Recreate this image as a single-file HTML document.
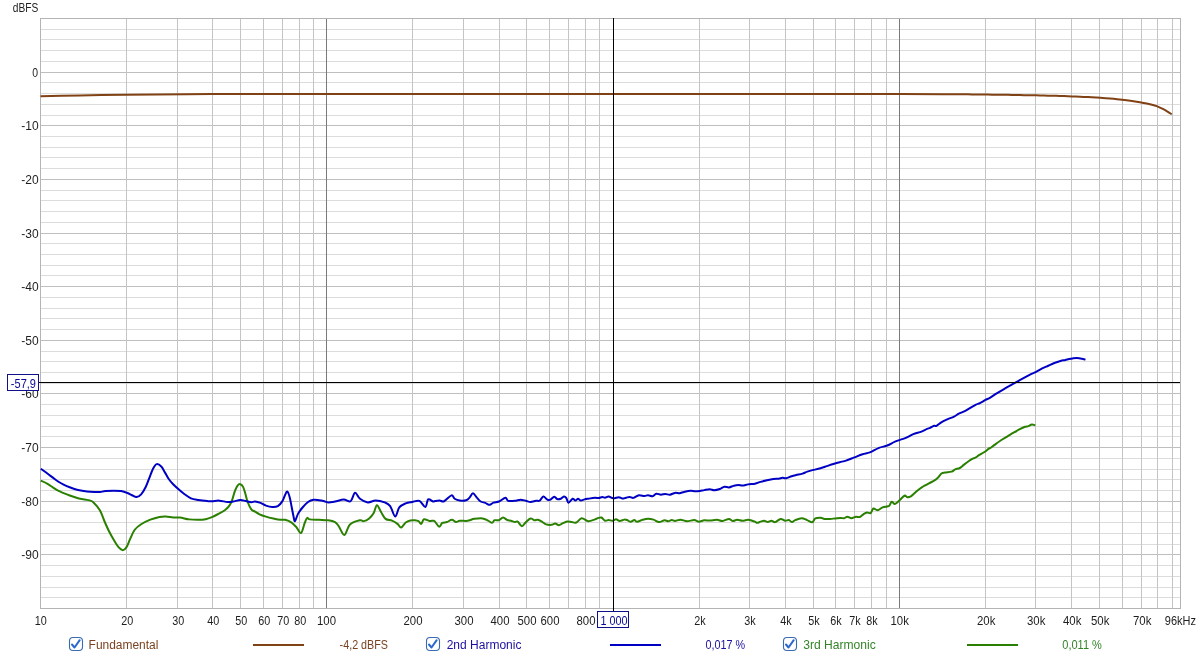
<!DOCTYPE html><html><head><meta charset="utf-8"><style>html,body{margin:0;padding:0;background:#fff;width:1200px;height:656px;overflow:hidden}svg{display:block;will-change:transform}text{font-family:"Liberation Sans",sans-serif;font-size:12px}</style></head><body>
<svg width="1200" height="656" viewBox="0 0 1200 656">
<rect width="1200" height="656" fill="#fff"/>
<g shape-rendering="crispEdges"><rect x="40" y="29" width="1140" height="1" fill="#dcdcdc"/><rect x="40" y="39" width="1140" height="1" fill="#dcdcdc"/><rect x="40" y="50" width="1140" height="1" fill="#dcdcdc"/><rect x="40" y="61" width="1140" height="1" fill="#dcdcdc"/><rect x="40" y="72" width="1140" height="1" fill="#bebebe"/><rect x="40" y="82" width="1140" height="1" fill="#dcdcdc"/><rect x="40" y="93" width="1140" height="1" fill="#dcdcdc"/><rect x="40" y="104" width="1140" height="1" fill="#dcdcdc"/><rect x="40" y="115" width="1140" height="1" fill="#dcdcdc"/><rect x="40" y="125" width="1140" height="1" fill="#bebebe"/><rect x="40" y="136" width="1140" height="1" fill="#dcdcdc"/><rect x="40" y="147" width="1140" height="1" fill="#dcdcdc"/><rect x="40" y="157" width="1140" height="1" fill="#dcdcdc"/><rect x="40" y="168" width="1140" height="1" fill="#dcdcdc"/><rect x="40" y="179" width="1140" height="1" fill="#bebebe"/><rect x="40" y="190" width="1140" height="1" fill="#dcdcdc"/><rect x="40" y="200" width="1140" height="1" fill="#dcdcdc"/><rect x="40" y="211" width="1140" height="1" fill="#dcdcdc"/><rect x="40" y="222" width="1140" height="1" fill="#dcdcdc"/><rect x="40" y="233" width="1140" height="1" fill="#bebebe"/><rect x="40" y="243" width="1140" height="1" fill="#dcdcdc"/><rect x="40" y="254" width="1140" height="1" fill="#dcdcdc"/><rect x="40" y="265" width="1140" height="1" fill="#dcdcdc"/><rect x="40" y="275" width="1140" height="1" fill="#dcdcdc"/><rect x="40" y="286" width="1140" height="1" fill="#bebebe"/><rect x="40" y="297" width="1140" height="1" fill="#dcdcdc"/><rect x="40" y="308" width="1140" height="1" fill="#dcdcdc"/><rect x="40" y="318" width="1140" height="1" fill="#dcdcdc"/><rect x="40" y="329" width="1140" height="1" fill="#dcdcdc"/><rect x="40" y="340" width="1140" height="1" fill="#bebebe"/><rect x="40" y="351" width="1140" height="1" fill="#dcdcdc"/><rect x="40" y="361" width="1140" height="1" fill="#dcdcdc"/><rect x="40" y="372" width="1140" height="1" fill="#dcdcdc"/><rect x="40" y="383" width="1140" height="1" fill="#dcdcdc"/><rect x="40" y="393" width="1140" height="1" fill="#bebebe"/><rect x="40" y="404" width="1140" height="1" fill="#dcdcdc"/><rect x="40" y="415" width="1140" height="1" fill="#dcdcdc"/><rect x="40" y="426" width="1140" height="1" fill="#dcdcdc"/><rect x="40" y="436" width="1140" height="1" fill="#dcdcdc"/><rect x="40" y="447" width="1140" height="1" fill="#bebebe"/><rect x="40" y="458" width="1140" height="1" fill="#dcdcdc"/><rect x="40" y="469" width="1140" height="1" fill="#dcdcdc"/><rect x="40" y="479" width="1140" height="1" fill="#dcdcdc"/><rect x="40" y="490" width="1140" height="1" fill="#dcdcdc"/><rect x="40" y="501" width="1140" height="1" fill="#bebebe"/><rect x="40" y="511" width="1140" height="1" fill="#dcdcdc"/><rect x="40" y="522" width="1140" height="1" fill="#dcdcdc"/><rect x="40" y="533" width="1140" height="1" fill="#dcdcdc"/><rect x="40" y="544" width="1140" height="1" fill="#dcdcdc"/><rect x="40" y="554" width="1140" height="1" fill="#bebebe"/><rect x="40" y="565" width="1140" height="1" fill="#dcdcdc"/><rect x="40" y="576" width="1140" height="1" fill="#dcdcdc"/><rect x="40" y="587" width="1140" height="1" fill="#dcdcdc"/><rect x="40" y="597" width="1140" height="1" fill="#dcdcdc"/><rect x="126" y="18" width="1" height="590" fill="#c4c4c4"/><rect x="177" y="18" width="1" height="590" fill="#c4c4c4"/><rect x="212" y="18" width="1" height="590" fill="#c4c4c4"/><rect x="240" y="18" width="1" height="590" fill="#c4c4c4"/><rect x="263" y="18" width="1" height="590" fill="#c4c4c4"/><rect x="282" y="18" width="1" height="590" fill="#c4c4c4"/><rect x="299" y="18" width="1" height="590" fill="#c4c4c4"/><rect x="313" y="18" width="1" height="590" fill="#c4c4c4"/><rect x="326" y="18" width="1" height="590" fill="#7a7a7a"/><rect x="412" y="18" width="1" height="590" fill="#c4c4c4"/><rect x="463" y="18" width="1" height="590" fill="#c4c4c4"/><rect x="499" y="18" width="1" height="590" fill="#c4c4c4"/><rect x="526" y="18" width="1" height="590" fill="#c4c4c4"/><rect x="549" y="18" width="1" height="590" fill="#c4c4c4"/><rect x="568" y="18" width="1" height="590" fill="#c4c4c4"/><rect x="585" y="18" width="1" height="590" fill="#c4c4c4"/><rect x="599" y="18" width="1" height="590" fill="#c4c4c4"/><rect x="613" y="18" width="1" height="590" fill="#7a7a7a"/><rect x="699" y="18" width="1" height="590" fill="#c4c4c4"/><rect x="749" y="18" width="1" height="590" fill="#c4c4c4"/><rect x="785" y="18" width="1" height="590" fill="#c4c4c4"/><rect x="813" y="18" width="1" height="590" fill="#c4c4c4"/><rect x="835" y="18" width="1" height="590" fill="#c4c4c4"/><rect x="854" y="18" width="1" height="590" fill="#c4c4c4"/><rect x="871" y="18" width="1" height="590" fill="#c4c4c4"/><rect x="886" y="18" width="1" height="590" fill="#c4c4c4"/><rect x="899" y="18" width="1" height="590" fill="#7a7a7a"/><rect x="985" y="18" width="1" height="590" fill="#c4c4c4"/><rect x="1035" y="18" width="1" height="590" fill="#c4c4c4"/><rect x="1071" y="18" width="1" height="590" fill="#c4c4c4"/><rect x="1099" y="18" width="1" height="590" fill="#c4c4c4"/><rect x="1122" y="18" width="1" height="590" fill="#c4c4c4"/><rect x="1141" y="18" width="1" height="590" fill="#c4c4c4"/><rect x="1157" y="18" width="1" height="590" fill="#c4c4c4"/><rect x="1172" y="18" width="1" height="590" fill="#c4c4c4"/></g>
<rect x="40.5" y="18.5" width="1140" height="590" fill="none" stroke="#b4b4b4" stroke-width="1" shape-rendering="crispEdges"/>
<text transform="translate(32.21,77) scale(0.87,1)" fill="#1e1e1e">0</text>
<text transform="translate(21.30,130) scale(1.0,1)" fill="#1e1e1e">-10</text>
<text transform="translate(21.30,184) scale(1.0,1)" fill="#1e1e1e">-20</text>
<text transform="translate(21.30,238) scale(1.0,1)" fill="#1e1e1e">-30</text>
<text transform="translate(21.30,291) scale(1.0,1)" fill="#1e1e1e">-40</text>
<text transform="translate(21.30,345) scale(1.0,1)" fill="#1e1e1e">-50</text>
<text transform="translate(21.30,398) scale(1.0,1)" fill="#1e1e1e">-60</text>
<text transform="translate(21.30,452) scale(1.0,1)" fill="#1e1e1e">-70</text>
<text transform="translate(21.30,506) scale(1.0,1)" fill="#1e1e1e">-80</text>
<text transform="translate(21.30,559) scale(1.0,1)" fill="#1e1e1e">-90</text>
<text transform="translate(34.70,625) scale(0.9,1)" fill="#1e1e1e">10</text>
<text transform="translate(121.15,625) scale(0.9,1)" fill="#1e1e1e">20</text>
<text transform="translate(172.15,625) scale(0.9,1)" fill="#1e1e1e">30</text>
<text transform="translate(207.15,625) scale(0.9,1)" fill="#1e1e1e">40</text>
<text transform="translate(235.15,625) scale(0.9,1)" fill="#1e1e1e">50</text>
<text transform="translate(258.15,625) scale(0.9,1)" fill="#1e1e1e">60</text>
<text transform="translate(277.15,625) scale(0.9,1)" fill="#1e1e1e">70</text>
<text transform="translate(294.15,625) scale(0.9,1)" fill="#1e1e1e">80</text>
<text transform="translate(317.02,625) scale(0.95,1)" fill="#1e1e1e">100</text>
<text transform="translate(403.50,625) scale(0.95,1)" fill="#1e1e1e">200</text>
<text transform="translate(454.50,625) scale(0.95,1)" fill="#1e1e1e">300</text>
<text transform="translate(490.50,625) scale(0.95,1)" fill="#1e1e1e">400</text>
<text transform="translate(517.50,625) scale(0.95,1)" fill="#1e1e1e">500</text>
<text transform="translate(540.50,625) scale(0.95,1)" fill="#1e1e1e">600</text>
<text transform="translate(576.50,625) scale(0.95,1)" fill="#1e1e1e">800</text>
<text transform="translate(694.15,625) scale(0.9,1)" fill="#1e1e1e">2k</text>
<text transform="translate(744.15,625) scale(0.9,1)" fill="#1e1e1e">3k</text>
<text transform="translate(780.15,625) scale(0.9,1)" fill="#1e1e1e">4k</text>
<text transform="translate(808.15,625) scale(0.9,1)" fill="#1e1e1e">5k</text>
<text transform="translate(830.15,625) scale(0.9,1)" fill="#1e1e1e">6k</text>
<text transform="translate(849.15,625) scale(0.9,1)" fill="#1e1e1e">7k</text>
<text transform="translate(866.15,625) scale(0.9,1)" fill="#1e1e1e">8k</text>
<text transform="translate(890.50,625) scale(0.95,1)" fill="#1e1e1e">10k</text>
<text transform="translate(976.98,625) scale(0.95,1)" fill="#1e1e1e">20k</text>
<text transform="translate(1026.97,625) scale(0.95,1)" fill="#1e1e1e">30k</text>
<text transform="translate(1062.97,625) scale(0.95,1)" fill="#1e1e1e">40k</text>
<text transform="translate(1090.97,625) scale(0.95,1)" fill="#1e1e1e">50k</text>
<text transform="translate(1132.97,625) scale(0.95,1)" fill="#1e1e1e">70k</text>
<text transform="translate(12.80,12) scale(0.850,1)" fill="#1e1e1e">dBFS</text>
<text transform="translate(88.60,649) scale(0.997,1)" fill="#7a4220">Fundamental</text>
<text transform="translate(339.60,649) scale(0.896,1)" fill="#7a4220">-4,2 dBFS</text>
<text transform="translate(446.70,649) scale(1.000,1)" fill="#1c10a0">2nd Harmonic</text>
<text transform="translate(705.40,649) scale(0.900,1)" fill="#1c10a0">0,017 %</text>
<text transform="translate(803.30,649) scale(1.007,1)" fill="#338428">3rd Harmonic</text>
<text transform="translate(1062.25,649) scale(0.920,1)" fill="#338428">0,011 %</text>
<text transform="translate(1164.80,625) scale(0.918,1)" fill="#1e1e1e">96kHz</text>
<path d="M40.50,96.30C53.67,96.00 66.83,95.65 80.00,95.40C95.33,95.11 110.67,94.88 126.00,94.70C146.00,94.46 166.00,94.28 186.00,94.15C202.67,94.04 219.33,94.02 236.00,94.00C290.67,93.94 345.33,93.92 400.00,93.90C466.67,93.88 533.33,93.89 600.00,93.90C666.67,93.91 733.33,93.93 800.00,93.95C833.33,93.96 866.67,93.93 900.00,94.00C920.00,94.04 940.00,94.19 960.00,94.30C962.67,94.31 965.33,94.34 968.00,94.37C970.67,94.40 973.33,94.42 976.00,94.45C978.67,94.48 981.33,94.50 984.00,94.53C986.67,94.56 989.33,94.59 992.00,94.63C994.67,94.66 997.33,94.70 1000.00,94.74C1002.67,94.78 1005.33,94.82 1008.00,94.86C1010.67,94.90 1013.33,94.94 1016.00,94.99C1018.67,95.03 1021.33,95.08 1024.00,95.13C1026.67,95.18 1029.33,95.24 1032.00,95.29C1034.67,95.34 1037.33,95.40 1040.00,95.46C1042.67,95.52 1045.33,95.58 1048.00,95.65C1050.67,95.72 1053.33,95.79 1056.00,95.87C1058.67,95.95 1061.33,96.03 1064.00,96.12C1066.67,96.21 1069.33,96.30 1072.00,96.40C1074.67,96.50 1077.33,96.60 1080.00,96.72C1082.67,96.84 1085.33,96.96 1088.00,97.10C1090.67,97.24 1093.33,97.39 1096.00,97.55C1097.33,97.63 1098.67,97.70 1100.00,97.80C1103.33,98.05 1106.67,98.30 1110.00,98.60C1114.00,98.95 1118.00,99.30 1122.00,99.75C1125.33,100.12 1128.67,100.57 1132.00,101.05C1135.10,101.50 1138.20,102.00 1141.30,102.55C1144.20,103.07 1147.10,103.57 1150.00,104.25C1152.23,104.77 1154.47,105.32 1156.70,106.15C1158.90,106.97 1161.10,108.08 1163.30,109.20C1164.87,110.00 1166.43,110.95 1168.00,111.90C1169.23,112.65 1170.47,113.50 1171.70,114.30" fill="none" stroke="#804214" stroke-width="2.0" stroke-linejoin="round"/>
<path d="M40.80,480.70C41.85,481.18 45.03,482.45 47.10,483.60C49.17,484.75 51.37,486.42 53.20,487.60C55.03,488.78 56.37,489.78 58.10,490.70C59.83,491.62 61.67,492.30 63.60,493.10C65.53,493.90 67.30,494.63 69.70,495.50C72.10,496.37 75.45,497.62 78.00,498.30C80.55,498.98 83.08,499.25 85.00,499.60C86.92,499.95 88.08,499.92 89.50,500.40C90.92,500.88 91.75,500.81 93.50,502.50C95.25,504.19 98.16,507.37 100.00,510.54C101.84,513.71 103.05,518.00 104.57,521.51C106.09,525.01 107.62,528.52 109.14,531.57C110.66,534.62 112.18,537.24 113.71,539.80C115.23,542.36 116.77,545.21 118.29,546.93C119.82,548.65 121.49,550.10 122.86,550.13C124.23,550.16 125.29,548.98 126.51,547.11C127.73,545.24 128.80,541.78 130.17,538.89C131.54,536.00 132.91,532.18 134.74,529.74C136.57,527.30 138.55,525.93 141.14,524.26C143.73,522.59 147.24,520.91 150.29,519.69C153.34,518.47 156.84,517.47 159.43,516.94C162.02,516.41 163.55,516.41 165.83,516.49C168.12,516.57 170.78,517.23 173.14,517.40C175.50,517.57 177.33,517.21 180.00,517.54C182.67,517.87 186.09,518.99 189.14,519.37C192.19,519.75 195.55,519.86 198.29,519.83C201.03,519.80 203.31,519.65 205.60,519.19C207.88,518.73 209.87,517.97 212.00,517.09C214.13,516.21 216.27,515.03 218.40,513.89C220.53,512.75 222.97,511.60 224.80,510.23C226.63,508.86 228.15,507.34 229.37,505.66C230.59,503.98 231.20,502.61 232.11,500.17C233.03,497.73 233.95,493.47 234.86,491.03C235.78,488.59 236.69,486.68 237.60,485.54C238.51,484.40 239.43,483.94 240.34,484.17C241.25,484.40 242.25,485.31 243.09,486.91C243.93,488.51 244.61,491.25 245.37,493.77C246.13,496.28 246.67,499.41 247.66,502.00C248.65,504.59 250.09,507.71 251.31,509.31C252.53,510.91 253.62,510.76 255.00,511.60C256.38,512.44 257.74,513.50 259.57,514.34C261.40,515.18 263.68,515.94 265.97,516.63C268.26,517.32 270.85,517.93 273.29,518.46C275.73,518.99 278.62,519.60 280.60,519.83C282.58,520.06 283.34,519.37 285.17,519.83C287.00,520.29 289.68,521.33 291.57,522.57C293.46,523.82 294.93,525.56 296.50,527.30C298.07,529.04 299.63,533.72 301.00,533.00C302.37,532.28 303.68,525.50 304.70,523.00C305.72,520.50 306.25,518.61 307.11,518.00C307.97,517.39 307.88,519.07 309.86,519.37C311.84,519.67 315.95,519.68 319.00,519.83C322.05,519.98 325.47,519.91 328.14,520.29C330.81,520.67 333.23,521.12 335.00,522.11C336.77,523.10 337.18,524.10 338.75,526.25C340.32,528.40 342.52,535.31 344.40,535.00C346.27,534.69 347.40,526.86 350.00,524.40C352.60,521.94 357.72,520.77 360.00,520.23C362.28,519.69 362.14,521.44 363.66,521.14C365.18,520.84 367.46,519.77 369.14,518.40C370.81,517.03 372.41,515.12 373.71,512.91C375.00,510.70 375.69,505.29 376.91,505.14C378.13,504.99 379.58,509.71 381.03,512.00C382.48,514.29 383.77,517.41 385.60,518.86C387.43,520.31 390.02,519.85 392.00,520.69C393.98,521.53 395.97,522.75 397.49,523.89C399.01,525.03 399.77,527.77 401.14,527.54C402.51,527.31 404.18,523.70 405.71,522.51C407.24,521.32 408.76,520.79 410.29,520.41C411.82,520.03 413.49,520.11 414.86,520.23C416.23,520.35 417.44,520.53 418.51,521.14C419.58,521.75 420.34,524.19 421.26,523.89C422.18,523.59 422.63,519.80 424.00,519.31C425.37,518.82 427.97,520.73 429.49,520.96C431.01,521.19 432.22,520.58 433.14,520.69C434.06,520.80 434.00,520.61 435.00,521.60C436.00,522.59 437.89,526.40 439.11,526.63C440.33,526.86 441.01,523.73 442.31,522.97C443.61,522.21 445.29,522.59 446.89,522.06C448.49,521.53 450.39,519.77 451.91,519.77C453.43,519.77 454.73,521.91 456.03,522.06C457.33,522.21 458.01,520.87 459.69,520.69C461.37,520.51 464.41,521.04 466.09,520.96C467.76,520.88 468.37,520.58 469.74,520.23C471.11,519.88 472.18,519.16 474.31,518.86C476.44,518.56 480.25,518.10 482.54,518.40C484.83,518.70 486.43,519.96 488.03,520.69C489.63,521.42 491.07,522.87 492.14,522.79C493.21,522.71 493.29,520.66 494.43,520.23C495.57,519.80 497.55,520.69 499.00,520.23C500.45,519.77 501.74,517.52 503.11,517.49C504.48,517.46 505.93,519.52 507.23,520.05C508.53,520.58 509.59,520.36 510.89,520.69C512.18,521.03 513.86,521.91 515.00,522.06C516.14,522.21 516.60,520.91 517.74,521.60C518.88,522.29 520.49,526.09 521.86,526.17C523.23,526.25 524.52,523.35 525.97,522.06C527.42,520.76 529.17,518.70 530.54,518.40C531.91,518.10 532.98,520.00 534.20,520.23C535.42,520.46 536.49,519.47 537.86,519.77C539.23,520.07 541.06,521.30 542.43,522.06C543.80,522.82 544.57,523.88 546.09,524.34C547.61,524.80 550.05,524.95 551.57,524.80C553.09,524.65 554.01,523.35 555.23,523.43C556.45,523.51 557.67,525.26 558.89,525.26C560.11,525.26 561.17,524.04 562.54,523.43C563.91,522.82 565.59,521.83 567.11,521.60C568.63,521.37 570.17,521.91 571.69,522.06C573.22,522.21 574.59,523.15 576.26,522.51C577.93,521.87 579.76,518.45 581.74,518.22C583.72,517.99 585.93,520.95 588.14,521.14C590.35,521.33 593.40,519.84 595.00,519.34C596.60,518.84 596.67,518.45 597.74,518.15C598.81,517.85 600.18,517.08 601.40,517.51C602.62,517.94 603.84,520.30 605.06,520.71C606.28,521.12 607.49,519.98 608.71,519.98C609.93,519.98 611.15,520.82 612.37,520.71C613.59,520.60 614.81,519.31 616.03,519.34C617.25,519.37 618.32,520.85 619.69,520.90C621.06,520.95 623.04,519.77 624.26,519.62C625.48,519.47 625.93,519.62 627.00,519.98C628.07,520.35 629.44,521.81 630.66,521.81C631.88,521.81 633.24,519.98 634.31,519.98C635.38,519.98 635.69,521.84 637.06,521.81C638.43,521.78 640.71,520.32 642.54,519.80C644.37,519.28 646.20,518.73 648.03,518.70C649.86,518.67 651.68,519.06 653.51,519.62C655.34,520.18 657.17,521.98 659.00,522.09C660.83,522.20 662.97,520.41 664.49,520.26C666.01,520.11 666.92,521.22 668.14,521.17C669.36,521.12 670.66,520.02 671.80,519.98C672.94,519.94 673.55,520.95 675.00,520.90C676.45,520.85 678.51,519.62 680.49,519.67C682.47,519.72 684.61,521.17 686.89,521.23C689.17,521.29 692.22,519.96 694.20,520.04C696.18,520.12 697.09,521.65 698.77,521.69C700.45,521.74 702.43,520.49 704.26,520.31C706.09,520.13 707.61,520.66 709.74,520.59C711.87,520.52 714.93,519.80 717.06,519.86C719.19,519.92 720.56,521.10 722.54,520.95C724.52,520.80 727.26,518.94 728.94,518.94C730.62,518.94 731.23,520.80 732.60,520.95C733.97,521.10 735.49,519.89 737.17,519.86C738.85,519.83 740.83,520.80 742.66,520.77C744.49,520.74 746.46,519.64 748.14,519.67C749.82,519.70 751.57,520.62 752.71,520.95C753.85,521.28 754.24,521.34 755.00,521.66C755.76,521.98 756.38,522.85 757.29,522.85C758.20,522.85 759.35,522.01 760.49,521.66C761.63,521.31 762.92,520.70 764.14,520.74C765.36,520.78 766.58,521.93 767.80,521.93C769.02,521.93 770.24,520.71 771.46,520.74C772.68,520.77 773.59,522.41 775.11,522.11C776.63,521.81 778.92,519.14 780.60,518.91C782.28,518.68 783.80,520.54 785.17,520.74C786.54,520.94 787.69,519.87 788.83,520.10C789.97,520.33 790.96,522.11 792.03,522.11C793.10,522.11 793.63,520.74 795.23,520.10C796.83,519.46 799.65,518.27 801.63,518.27C803.61,518.27 805.36,519.43 807.11,520.10C808.86,520.77 810.77,522.57 812.14,522.30C813.51,522.03 813.89,519.22 815.34,518.46C816.79,517.70 819.31,517.65 820.83,517.73C822.36,517.81 822.97,518.71 824.49,518.91C826.01,519.11 828.22,518.98 829.97,518.91C831.72,518.84 833.25,518.62 835.00,518.46C836.75,518.30 838.97,517.98 840.49,517.94C842.01,517.90 843.00,518.42 844.14,518.22C845.28,518.02 846.12,516.75 847.34,516.75C848.56,516.75 850.01,518.22 851.46,518.22C852.91,518.22 854.66,516.95 856.03,516.75C857.40,516.55 858.47,517.44 859.69,517.03C860.91,516.62 862.12,515.05 863.34,514.29C864.56,513.53 865.78,512.66 867.00,512.46C868.22,512.26 869.59,513.75 870.66,513.10C871.73,512.45 872.26,509.02 873.40,508.53C874.54,508.04 875.99,510.35 877.51,510.17C879.03,509.99 880.94,508.04 882.54,507.43C884.14,506.82 885.97,506.81 887.11,506.51C888.25,506.20 888.64,506.39 889.40,505.60C890.16,504.81 890.78,502.03 891.69,501.76C892.61,501.49 893.67,504.10 894.89,503.95C896.11,503.80 897.40,502.22 899.00,500.85C900.60,499.48 903.12,496.34 904.49,495.73C905.86,495.12 906.16,497.10 907.23,497.19C908.30,497.28 909.60,497.00 910.89,496.27C912.18,495.54 913.13,494.33 915.00,492.80C916.87,491.27 918.60,489.33 922.10,487.10C925.61,484.87 932.79,481.70 936.03,479.43C939.26,477.16 939.99,474.63 941.51,473.49C943.03,472.35 943.49,472.88 945.17,472.57C946.85,472.26 949.89,472.19 951.57,471.66C953.25,471.13 953.86,469.98 955.23,469.37C956.60,468.76 958.28,468.84 959.80,468.00C961.32,467.16 962.39,465.82 964.37,464.34C966.35,462.86 969.86,460.24 971.69,459.13C973.52,458.02 974.12,458.33 975.34,457.67C976.56,457.01 977.48,456.14 979.00,455.20C980.52,454.25 982.81,453.14 984.49,452.00C986.17,450.86 988.14,448.96 989.06,448.34C989.98,447.72 989.16,448.79 990.00,448.26C990.84,447.73 992.40,446.44 994.12,445.18C995.84,443.92 998.12,442.15 1000.29,440.72C1002.46,439.29 1004.86,437.97 1007.15,436.60C1009.44,435.23 1011.73,433.80 1014.01,432.49C1016.29,431.18 1019.03,429.67 1020.86,428.72C1022.69,427.77 1023.72,427.24 1024.98,426.80C1026.24,426.37 1027.27,426.48 1028.41,426.11C1029.55,425.74 1030.70,424.74 1031.84,424.60C1032.98,424.46 1034.70,425.18 1035.27,425.29" fill="none" stroke="#2a8000" stroke-width="2.0" stroke-linejoin="round"/>
<path d="M40.80,468.70C41.85,469.47 45.03,471.77 47.10,473.30C49.17,474.83 51.37,476.53 53.20,477.90C55.03,479.27 56.37,480.38 58.10,481.50C59.83,482.62 61.67,483.63 63.60,484.60C65.53,485.57 67.30,486.40 69.70,487.30C72.10,488.20 75.12,489.30 78.00,490.00C80.88,490.70 84.00,491.17 87.00,491.50C90.00,491.83 93.83,491.91 96.00,492.00C98.17,492.09 98.42,492.18 100.00,492.03C101.58,491.88 103.20,491.34 105.49,491.11C107.77,490.88 111.12,490.66 113.71,490.66C116.30,490.66 118.74,490.73 121.03,491.11C123.32,491.49 125.60,492.25 127.43,492.94C129.26,493.63 130.48,494.54 132.00,495.23C133.52,495.92 135.05,497.21 136.57,497.06C138.09,496.91 139.62,495.99 141.14,494.31C142.66,492.63 144.34,489.74 145.71,487.00C147.08,484.26 148.15,480.91 149.37,477.86C150.59,474.81 151.81,471.00 153.03,468.71C154.25,466.42 155.32,464.52 156.69,464.14C158.06,463.76 159.89,465.06 161.26,466.43C162.63,467.80 163.69,470.31 164.91,472.37C166.13,474.43 167.20,476.79 168.57,478.77C169.94,480.75 171.23,482.29 173.14,484.26C175.04,486.23 178.09,488.91 180.00,490.57C181.91,492.23 182.74,492.94 184.57,494.23C186.40,495.53 188.68,497.38 190.97,498.34C193.26,499.30 195.55,499.53 198.29,499.99C201.03,500.45 205.15,500.88 207.43,501.09C209.72,501.30 210.02,501.35 212.00,501.27C213.98,501.19 216.72,500.51 219.31,500.63C221.90,500.75 225.25,501.85 227.54,502.00C229.83,502.15 230.90,501.88 233.03,501.54C235.16,501.21 238.21,500.06 240.34,499.99C242.47,499.92 244.00,500.72 245.83,501.09C247.66,501.45 249.78,502.11 251.31,502.18C252.84,502.25 253.47,501.42 255.00,501.54C256.53,501.66 258.66,502.22 260.49,502.91C262.32,503.60 263.99,504.97 265.97,505.66C267.95,506.35 270.39,506.95 272.37,507.03C274.35,507.10 276.18,507.10 277.86,506.11C279.54,505.12 281.21,502.99 282.43,501.09C283.65,499.19 284.33,496.29 285.17,494.69C286.01,493.09 286.70,491.03 287.46,491.49C288.22,491.95 289.06,494.92 289.74,497.43C290.43,499.94 290.96,503.52 291.57,506.57C292.18,509.62 292.84,513.27 293.40,515.71C293.96,518.15 294.19,521.50 294.95,521.20C295.71,520.90 296.71,516.17 297.97,513.89C299.24,511.60 300.86,509.47 302.54,507.49C304.22,505.51 306.20,503.30 308.03,502.00C309.86,500.70 311.68,500.01 313.51,499.71C315.34,499.40 317.32,499.94 319.00,500.17C320.68,500.40 322.05,500.71 323.57,501.09C325.09,501.47 326.24,502.38 328.14,502.46C330.04,502.53 332.40,502.03 335.00,501.54C337.60,501.05 341.15,499.55 343.75,499.50C346.35,499.45 348.73,502.38 350.60,501.25C352.48,500.12 353.43,493.17 355.00,492.75C356.57,492.33 357.87,497.13 360.00,498.74C362.13,500.35 365.18,502.09 367.77,502.40C370.36,502.70 372.72,500.57 375.54,500.57C378.36,500.57 382.25,501.48 384.69,502.40C387.13,503.31 388.42,503.70 390.17,506.06C391.92,508.42 393.68,516.34 395.20,516.57C396.72,516.80 397.56,509.64 399.31,507.43C401.06,505.22 403.58,504.23 405.71,503.31C407.84,502.39 409.82,502.35 412.11,501.94C414.40,501.53 417.22,500.01 419.43,500.85C421.64,501.69 423.92,507.22 425.37,506.97C426.82,506.73 426.81,500.29 428.11,499.38C429.41,498.47 431.99,501.22 433.14,501.49C434.29,501.76 433.93,501.18 435.00,501.03C436.07,500.88 438.05,500.54 439.57,500.57C441.09,500.60 442.16,502.08 444.14,501.21C446.12,500.34 449.71,495.77 451.46,495.36C453.21,494.95 453.29,497.87 454.66,498.74C456.03,499.61 457.79,500.31 459.69,500.57C461.59,500.83 464.41,500.83 466.09,500.30C467.76,499.77 468.60,498.54 469.74,497.37C470.88,496.20 471.72,493.18 472.94,493.26C474.16,493.34 475.76,496.46 477.06,497.83C478.36,499.20 479.34,500.65 480.71,501.49C482.08,502.33 483.80,502.30 485.29,502.86C486.78,503.42 488.30,504.90 489.67,504.87C491.04,504.84 491.95,503.23 493.51,502.67C495.06,502.11 497.02,502.30 499.00,501.49C500.98,500.68 503.88,497.94 505.40,497.83C506.92,497.72 506.54,500.35 508.14,500.85C509.74,501.35 512.94,501.05 515.00,500.85C517.06,500.65 518.66,499.66 520.49,499.66C522.32,499.66 524.30,500.47 525.97,500.85C527.64,501.23 528.86,501.94 530.54,501.94C532.22,501.94 534.50,501.08 536.03,500.85C537.55,500.62 538.47,501.30 539.69,500.57C540.91,499.84 542.12,496.66 543.34,496.46C544.56,496.26 545.93,498.80 547.00,499.38C548.07,499.96 548.52,500.39 549.74,499.93C550.96,499.47 553.09,496.79 554.31,496.64C555.53,496.49 555.99,498.67 557.06,499.02C558.13,499.37 559.57,499.17 560.71,498.74C561.85,498.31 563.00,496.61 563.91,496.46C564.82,496.31 565.44,496.79 566.20,497.83C566.96,498.87 567.42,502.52 568.49,502.67C569.56,502.82 571.46,499.09 572.60,498.74C573.74,498.39 574.43,500.57 575.34,500.57C576.25,500.57 577.18,498.74 578.09,498.74C579.00,498.74 579.76,500.46 580.83,500.57C581.90,500.68 583.27,499.69 584.49,499.38C585.71,499.07 586.39,498.99 588.14,498.74C589.89,498.49 593.25,497.98 595.00,497.86C596.75,497.74 597.44,498.19 598.66,498.04C599.88,497.89 601.24,497.00 602.31,496.94C603.38,496.88 603.99,497.75 605.06,497.67C606.13,497.60 607.34,496.38 608.71,496.49C610.08,496.60 611.61,498.20 613.29,498.31C614.97,498.42 617.25,497.08 618.77,497.13C620.29,497.18 621.21,498.50 622.43,498.59C623.65,498.68 624.87,497.94 626.09,497.67C627.31,497.40 628.52,496.91 629.74,496.94C630.96,496.97 631.88,498.13 633.40,497.86C634.92,497.59 637.06,495.61 638.89,495.30C640.72,495.00 642.85,496.03 644.37,496.03C645.89,496.03 646.66,495.27 648.03,495.30C649.40,495.33 651.23,496.47 652.60,496.21C653.97,495.95 654.89,494.00 656.26,493.74C657.63,493.48 659.31,494.61 660.83,494.66C662.35,494.71 663.88,494.02 665.40,494.02C666.92,494.02 668.37,494.85 669.97,494.66C671.57,494.47 673.40,493.14 675.00,492.89C676.60,492.64 678.05,493.31 679.57,493.16C681.09,493.01 682.31,492.35 684.14,491.97C685.97,491.59 688.71,490.98 690.54,490.87C692.37,490.76 693.59,491.30 695.11,491.33C696.63,491.36 698.17,491.26 699.69,491.06C701.22,490.86 702.59,490.44 704.26,490.14C705.93,489.83 708.07,489.23 709.74,489.23C711.41,489.23 712.63,490.19 714.31,490.14C715.99,490.09 718.12,489.51 719.80,488.95C721.48,488.39 722.85,487.02 724.37,486.76C725.89,486.50 727.42,487.55 728.94,487.40C730.46,487.25 731.99,486.26 733.51,485.85C735.03,485.44 736.57,484.98 738.09,484.93C739.62,484.88 740.99,485.66 742.66,485.57C744.33,485.48 746.08,484.69 748.14,484.38C750.20,484.07 752.94,484.12 755.00,483.71C757.06,483.29 758.51,482.47 760.49,481.89C762.47,481.31 764.76,480.73 766.89,480.24C769.02,479.75 771.31,479.22 773.29,478.96C775.27,478.70 777.25,478.89 778.77,478.69C780.29,478.49 781.21,477.85 782.43,477.77C783.65,477.69 784.57,478.49 786.09,478.23C787.61,477.97 789.90,476.75 791.57,476.22C793.25,475.69 794.31,475.46 796.14,475.03C797.97,474.60 800.56,474.27 802.54,473.66C804.52,473.05 805.04,472.28 808.03,471.37C811.02,470.46 817.35,469.10 820.49,468.22C823.63,467.34 824.76,466.81 826.89,466.11C829.02,465.41 831.16,464.66 833.29,464.01C835.42,463.36 837.56,462.74 839.69,462.18C841.82,461.62 843.65,461.42 846.09,460.63C848.53,459.84 851.57,458.50 854.31,457.43C857.05,456.36 859.95,455.07 862.54,454.23C865.13,453.39 867.12,453.47 869.86,452.40C872.60,451.33 876.11,448.97 879.00,447.83C881.89,446.69 884.56,446.56 887.23,445.54C889.90,444.52 892.64,442.72 895.00,441.70C897.36,440.68 899.42,440.14 901.40,439.43C903.38,438.72 904.91,438.30 906.89,437.42C908.87,436.54 910.85,435.09 913.29,434.13C915.73,433.17 919.23,432.53 921.51,431.66C923.79,430.79 925.59,429.53 927.00,428.91C928.41,428.29 928.81,428.45 930.00,427.92C931.19,427.39 933.03,426.07 934.12,425.73C935.21,425.39 935.26,426.47 936.52,425.86C937.78,425.25 939.89,423.17 941.66,422.09C943.43,421.00 945.09,420.26 947.15,419.35C949.21,418.44 952.07,417.55 954.01,416.60C955.95,415.65 957.10,414.54 958.81,413.66C960.52,412.78 962.23,412.37 964.29,411.32C966.35,410.27 969.21,408.47 971.15,407.35C973.09,406.23 974.48,405.31 975.95,404.60C977.43,403.89 978.41,403.84 980.00,403.07C981.59,402.30 983.77,400.90 985.49,399.98C987.21,399.06 988.35,398.72 990.29,397.58C992.23,396.44 994.86,394.55 997.15,393.12C999.44,391.69 1001.73,390.32 1004.01,389.01C1006.29,387.69 1008.80,386.37 1010.86,385.23C1012.92,384.09 1014.63,383.12 1016.35,382.15C1018.07,381.18 1018.88,380.66 1021.15,379.40C1023.42,378.14 1027.51,375.86 1030.00,374.60C1032.49,373.34 1034.07,372.85 1036.10,371.83C1038.13,370.81 1040.17,369.50 1042.20,368.48C1044.23,367.46 1046.26,366.65 1048.29,365.73C1050.32,364.81 1052.36,363.78 1054.39,362.99C1056.42,362.20 1058.66,361.49 1060.49,360.98C1062.32,360.47 1063.95,360.27 1065.37,359.94C1066.79,359.61 1067.80,359.27 1069.02,359.02C1070.24,358.76 1071.36,358.56 1072.68,358.41C1074.00,358.26 1075.43,358.06 1076.95,358.11C1078.47,358.16 1080.41,358.47 1081.83,358.72C1083.25,358.97 1084.88,359.48 1085.49,359.63" fill="none" stroke="#0000c4" stroke-width="2.0" stroke-linejoin="round"/>
<g shape-rendering="crispEdges">
<rect x="613" y="18" width="1" height="593" fill="#000"/>
<rect x="39" y="382" width="1141" height="1" fill="#000"/>
</g>
<rect x="597.5" y="611.5" width="31" height="16" fill="#fff" stroke="#10108a" stroke-width="1" shape-rendering="crispEdges"/>
<text transform="translate(613.9,624.6) scale(0.9,1)" text-anchor="middle" fill="#0808a0">1 000</text>
<rect x="7.5" y="374.5" width="31" height="16" fill="#fff" stroke="#10108a" stroke-width="1" shape-rendering="crispEdges"/>
<text transform="translate(23.4,387.8) scale(0.92,1)" text-anchor="middle" fill="#08089a">-57,9</text>
<rect x="69.5" y="637.5" width="13" height="13" rx="3.5" fill="#fff" stroke="#3a6ab0" stroke-width="1.1"/><path d="M72,644.5 L74.5,647.5 L79.7,640.2" fill="none" stroke="#2a68d0" stroke-width="2" stroke-linecap="round" stroke-linejoin="round"/>
<rect x="426.5" y="637.5" width="13" height="13" rx="3.5" fill="#fff" stroke="#3a6ab0" stroke-width="1.1"/><path d="M429,644.5 L431.5,647.5 L436.7,640.2" fill="none" stroke="#2a68d0" stroke-width="2" stroke-linecap="round" stroke-linejoin="round"/>
<rect x="783.5" y="637.5" width="13" height="13" rx="3.5" fill="#fff" stroke="#3a6ab0" stroke-width="1.1"/><path d="M786,644.5 L788.5,647.5 L793.7,640.2" fill="none" stroke="#2a68d0" stroke-width="2" stroke-linecap="round" stroke-linejoin="round"/>
<rect x="253" y="644" width="51" height="2" fill="#804214"/>
<rect x="610" y="644" width="51" height="2" fill="#0000c4"/>
<rect x="967" y="644" width="51" height="2" fill="#2a8000"/>
</svg></body></html>
